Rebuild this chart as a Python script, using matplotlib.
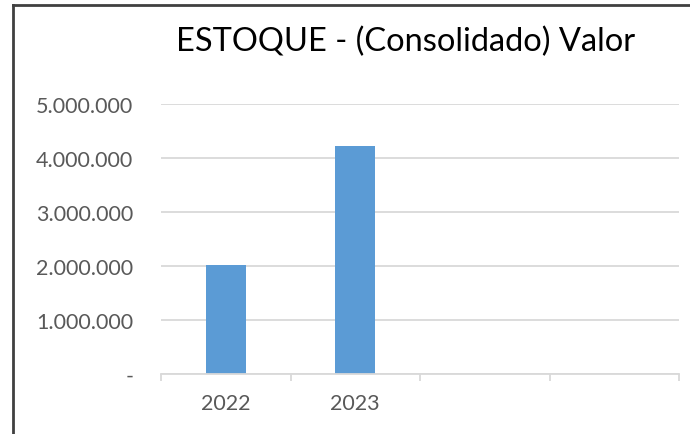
import matplotlib
matplotlib.use("Agg")
import matplotlib.pyplot as plt
from matplotlib.lines import Line2D
from matplotlib.ticker import FuncFormatter

categories = ["2022", "2023", "", ""]
values = [2020000, 4220000]
y_ticks = [0, 1000000, 2000000, 3000000, 4000000, 5000000]
title = "ESTOQUE - (Consolidado) Valor"

plt.rcParams['font.family'] = ['Lato', 'DejaVu Sans']

fig = plt.figure(figsize=(6.9, 4.35), dpi=100)
fig.patch.set_facecolor("white")
ax = fig.add_axes([161/690, 1-375/435, (679-161)/690, (375-105)/435])

xs = list(range(len(values)))
ax.bar(xs, values, width=0.31, color="#5b9bd5", zorder=3)

ax.set_xlim(-0.5, len(categories) - 0.5)
ax.set_ylim(0, 5000000)
ax.set_yticks(y_ticks)

def fmt(v, pos):
    if v == 0:
        return "-"
    return f"{int(v):,}".replace(",", ".")

ax.yaxis.set_major_formatter(FuncFormatter(fmt))
ax.grid(axis="y", color="#d9d9d9", linewidth=1.3, zorder=0)
ax.tick_params(axis="y", length=0, pad=20, labelsize=15.5, labelcolor="#595959")

boundaries = [i - 0.5 for i in range(len(categories) + 1)]
ax.set_xticks(boundaries)
ax.set_xticklabels([""] * len(boundaries))
ax.tick_params(axis="x", which="major", length=5, width=1.3, color="#d9d9d9", direction="out")
ax.set_xticks(list(range(len(categories))), minor=True)
ax.set_xticklabels(categories, minor=True)
ax.tick_params(axis="x", which="minor", length=0, pad=14, labelsize=15.5, labelcolor="#595959")

for s in ["top", "right", "left"]:
    ax.spines[s].set_visible(False)
ax.spines["bottom"].set_color("#d9d9d9")
ax.spines["bottom"].set_linewidth(1.3)
ax.spines["bottom"].set_zorder(4)

fig.text(406/690, 1-51/435, title, ha="center", va="baseline", fontsize=23.5, color="#000000")

# chart border (top and left visible)
fig.add_artist(Line2D([13/690, 1], [1-6/435, 1-6/435], color="#404040", linewidth=2, transform=fig.transFigure))
fig.add_artist(Line2D([13/690, 13/690], [0, 1-6/435], color="#404040", linewidth=2, transform=fig.transFigure))

fig.savefig("out.png", dpi=100, facecolor="white")
